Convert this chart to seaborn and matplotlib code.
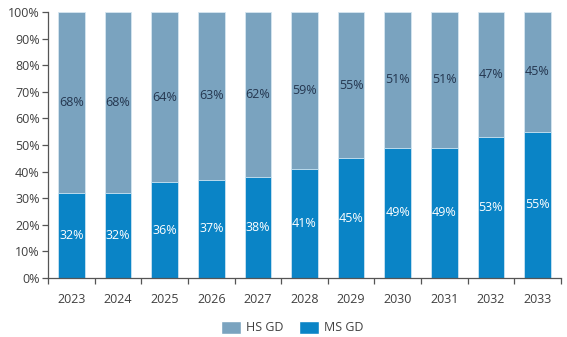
import matplotlib
matplotlib.use("Agg")
import matplotlib.pyplot as plt
import seaborn as sns
import pandas as pd
import numpy as np
from matplotlib.patches import Patch

years = ["2023", "2024", "2025", "2026", "2027", "2028", "2029", "2030", "2031", "2032", "2033"]
ms_gd = [32, 32, 36, 37, 38, 41, 45, 49, 49, 53, 55]
hs_gd = [68, 68, 64, 63, 62, 59, 55, 51, 51, 47, 45]

HS_COLOR = "#7AA3BF"
MS_COLOR = "#0A84C6"

sns.set_theme(style="white")
plt.rcParams["font.family"] = ["Open Sans", "DejaVu Sans"]

df = pd.DataFrame({"year": years, "ms": ms_gd, "hs": hs_gd})
df["total"] = df["ms"] + df["hs"]

fig = plt.figure(figsize=(5.67, 3.37), dpi=100)
ax = fig.add_axes([0.085, 0.175, 0.904, 0.789])

sns.barplot(data=df, x="year", y="total", color=HS_COLOR, saturation=1, width=0.57, ax=ax,
            edgecolor="#D6E6F0", linewidth=0.6)
sns.barplot(data=df, x="year", y="ms", color=MS_COLOR, saturation=1, width=0.57, ax=ax,
            edgecolor="#CFE6F4", linewidth=0.6)

for i, (m, h) in enumerate(zip(ms_gd, hs_gd)):
    ax.text(i, m / 2, f"{m}%", ha="center", va="center", color="white", fontsize=9)
    ax.text(i, m + h / 2, f"{h}%", ha="center", va="center", color="#24364F", fontsize=9)

ax.set_ylim(0, 100)
ax.set_xlim(-0.5, len(years) - 0.5)
ax.set_yticks(np.arange(0, 101, 10))
ax.set_yticklabels([f"{v}%" for v in range(0, 101, 10)])
ax.set_xlabel("")
ax.set_ylabel("")

for s in ["top", "right"]:
    ax.spines[s].set_visible(False)
for s in ["left", "bottom"]:
    ax.spines[s].set_color("#555555")
    ax.spines[s].set_linewidth(0.9)

ax.tick_params(axis="y", left=True, length=4, width=0.9, color="#555555",
               labelsize=9, labelcolor="#404040", pad=2)
ax.tick_params(axis="x", bottom=False, labelsize=9, labelcolor="#404040", pad=5)
ax.set_xticks(np.arange(-0.5, len(years), 1), minor=True)
ax.tick_params(axis="x", which="minor", bottom=True, length=4, width=0.9, color="#555555")

handles = [Patch(facecolor=HS_COLOR, label="HS GD"), Patch(facecolor=MS_COLOR, label="MS GD")]
fig.legend(handles=handles, loc="center", bbox_to_anchor=(0.515, 0.028), ncol=2, frameon=False,
           fontsize=9, handlelength=1.6, handleheight=1.2, handletextpad=0.4, columnspacing=1.2,
           labelcolor="#404040")

fig.savefig("out.png", dpi=100)
